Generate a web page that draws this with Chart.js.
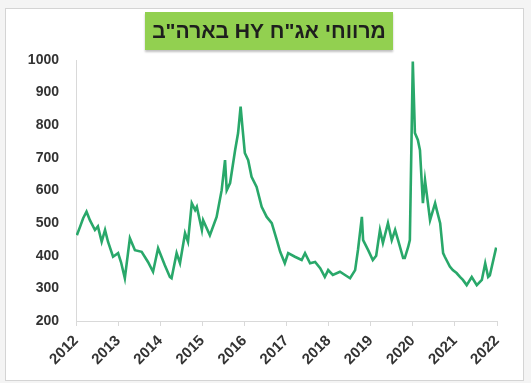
<!DOCTYPE html>
<html lang="he">
<head>
<meta charset="utf-8">
<script src="https://cdn.jsdelivr.net/npm/chart.js@4/dist/chart.umd.min.js"></script>
<style>
  html, body { margin: 0; padding: 0; }
  body { width: 531px; height: 383px; background: #f4f4f4; position: relative; overflow: hidden; font-family: "Liberation Sans", Arial, sans-serif; }
  .card { position: absolute; left: 5px; top: 8px; width: 517px; height: 371px; background: #fff; border: 1px solid #d4d4d4; }
  .titulo { position: absolute; left: 145px; top: 12px; width: 248px; height: 38px; background: #92d050; box-shadow: 0 2px 2px rgba(0,0,0,0.25);
            direction: rtl; text-align: center; line-height: 38px; font-weight: bold; font-size: 21px; color: #1e1e1e; z-index: 2; white-space: nowrap; }
  #grafico { position: absolute; left: 0; top: 0; z-index: 1; }
</style>
</head>
<body>
<div class="card"></div>
<div class="titulo">מרווחי אג"ח HY בארה"ב</div>
<canvas id="grafico" width="531" height="383"></canvas>
<script>
// Eixo x em anos decimais, eixo y em pontos-base
const anos = [
  2012.02, 2012.10, 2012.17, 2012.25, 2012.33, 2012.45, 2012.52, 2012.61, 2012.69, 2012.76, 2012.88,
  2013.00, 2013.07, 2013.16, 2013.28, 2013.40, 2013.56, 2013.71, 2013.83, 2013.95,
  2014.11, 2014.23, 2014.27, 2014.39, 2014.47, 2014.59, 2014.66, 2014.75, 2014.83, 2014.87, 2014.99,
  2015.02, 2015.18, 2015.34, 2015.46, 2015.54, 2015.58, 2015.66, 2015.78, 2015.85, 2015.91, 2015.96,
  2016.01, 2016.09, 2016.17, 2016.29, 2016.41, 2016.53, 2016.65, 2016.77, 2016.85, 2016.96,
  2017.04, 2017.20, 2017.36, 2017.44, 2017.56, 2017.68, 2017.80, 2017.91, 2017.99,
  2018.10, 2018.27, 2018.39, 2018.51, 2018.63, 2018.70, 2018.79, 2018.82, 2018.94,
  2019.05, 2019.13, 2019.22, 2019.29, 2019.41, 2019.50, 2019.58, 2019.65, 2019.77, 2019.81, 2019.89, 2019.93,
  2020.00, 2020.05, 2020.12, 2020.17, 2020.24, 2020.29, 2020.41, 2020.53, 2020.57, 2020.65, 2020.72, 2020.76, 2020.88, 2020.95,
  2021.04, 2021.12, 2021.19, 2021.28, 2021.40, 2021.52, 2021.64, 2021.72, 2021.79, 2021.83, 2021.98
];
const spreads = [
  463, 490, 515, 535, 509, 479, 490, 443, 479, 443, 397,
  408, 380, 331, 454, 417, 412, 381, 351, 423,
  371, 335, 331, 408, 377, 469, 443, 561, 540, 550, 479,
  509, 463, 519, 601, 693, 601, 623, 724, 776, 857, 785,
  715, 693, 642, 611, 550, 519, 500, 448, 412, 377,
  408, 397, 387, 408, 377, 381, 362, 335, 356,
  341, 351, 341, 331, 356, 420, 519, 448, 417,
  387, 400, 479, 439, 500, 448, 479, 448, 393, 393, 427, 448,
  995, 776, 755, 724, 561, 632, 509, 561, 540, 500, 408, 397, 367, 356,
  347, 335, 326, 310, 335, 310, 326, 377, 335, 340, 425
];
const ticksY = [200, 300, 400, 500, 600, 700, 800, 900, 1000];

const pontos = anos.map((a, i) => ({ x: a, y: spreads[i] }));
const fonteEixo = { family: '"Liberation Sans", Arial, sans-serif', size: 14, weight: 'bold' };
const fonteAnos = { family: '"Liberation Sans", Arial, sans-serif', size: 15, weight: 'bold' };

const ctx = document.getElementById('grafico').getContext('2d');
new Chart(ctx, {
  type: 'line',
  data: {
    datasets: [{
      data: pontos,
      borderColor: '#29a86a',
      borderWidth: 2.6,
      pointRadius: 0,
      tension: 0,
      fill: false
    }]
  },
  options: {
    responsive: false,
    animation: false,
    layout: { padding: { top: 60, right: 34, left: 0, bottom: 0 } },
    plugins: { legend: { display: false }, tooltip: { enabled: false } },
    scales: {
      x: {
        type: 'linear',
        min: 2012,
        max: 2022,
        afterFit: (s) => { s.height = 62; },
        ticks: {
          stepSize: 1,
          autoSkip: false,
          maxRotation: 45,
          minRotation: 45,
          padding: 6,
          color: '#333',
          font: fonteAnos,
          callback: (v) => String(v)
        },
        grid: { drawOnChartArea: false, drawTicks: true, tickLength: 5, color: '#d9d9d9' },
        border: { display: true, color: '#d9d9d9' }
      },
      y: {
        min: ticksY[0],
        max: ticksY[ticksY.length - 1],
        afterFit: (s) => { s.width = 76; },
        afterBuildTicks: (s) => { s.ticks = ticksY.map(v => ({ value: v })); },
        ticks: { padding: 17, color: '#333', font: fonteEixo, callback: (v) => String(v) },
        grid: { display: false, drawTicks: false },
        border: { display: true, color: '#d9d9d9' }
      }
    }
  }
});
</script>
</body>
</html>
